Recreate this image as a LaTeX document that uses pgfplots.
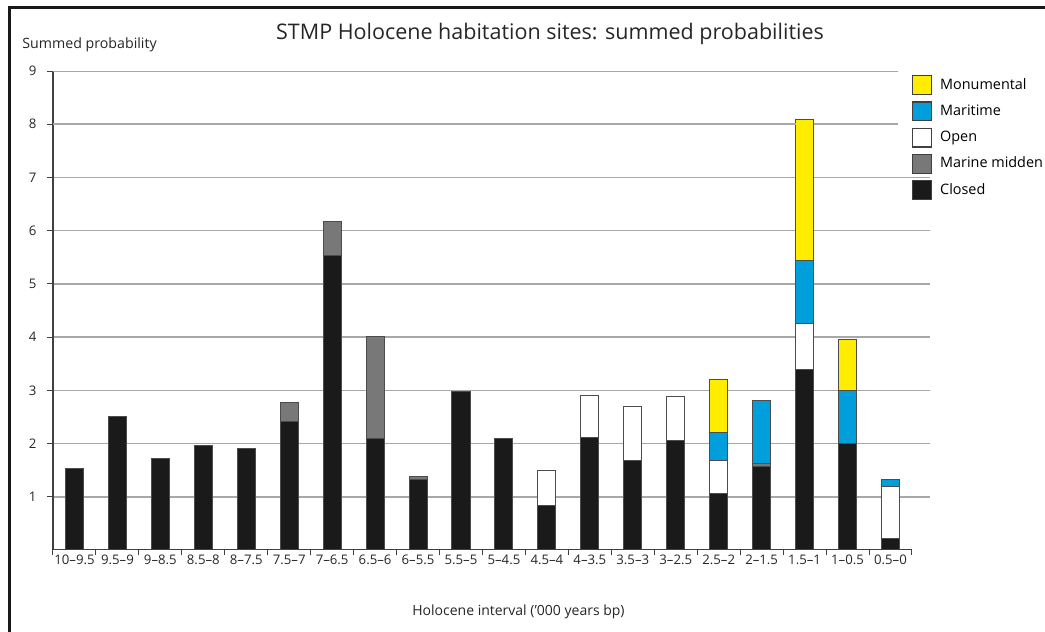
\documentclass[border=0pt]{standalone}
\usepackage{fontspec}
\setmainfont{Open Sans}
\usepackage{pgfplots}
\pgfplotsset{compat=1.18}
\usepackage{pgfplotstable}

\definecolor{closed}{HTML}{1A1A1A}
\definecolor{midden}{HTML}{787878}
\definecolor{maritime}{HTML}{009FDB}
\definecolor{monum}{HTML}{FFED00}
\definecolor{gridc}{HTML}{A8A8A8}

% summed probabilities per 500-year interval
\pgfplotstableread{
x    closed midden open maritime monumental
0.5  1.54   0      0    0        0
1.5  2.51   0      0    0        0
2.5  1.71   0      0    0        0
3.5  1.96   0      0    0        0
4.5  1.91   0      0    0        0
5.5  2.42   0.36   0    0        0
6.5  5.53   0.64   0    0        0
7.5  2.09   1.93   0    0        0
8.5  1.33   0.06   0    0        0
9.5  2.98   0      0    0        0
10.5 2.10   0      0    0        0
11.5 0.83   0      0.67 0        0
12.5 2.11   0      0.79 0        0
13.5 1.69   0      1.01 0        0
14.5 2.05   0      0.84 0        0
15.5 1.06   0      0.63 0.51     1.00
16.5 1.56   0.07   0    1.17     0
17.5 3.40   0      0.86 1.18     2.64
18.5 2.00   0      0    0.99     0.96
19.5 0.22   0      0.98 0.13     0
}\sites

\begin{document}
\begin{tikzpicture}
\useasboundingbox (0,0) rectangle (522.5pt,316pt);
\begin{axis}[
    at={(26.5pt,41pt)}, anchor=south west,
    scale only axis, width=438.5pt, height=239.5pt,
    xmin=0, xmax=20.42, ymin=0, ymax=9,
    ybar stacked, bar width=0.42,
    axis y line*=left, axis x line*=bottom,
    x axis line style={draw=none},
    y axis line style={black!75, line width=0.6pt},
    tick align=outside,
    xtick={0,...,20}, xticklabels={},
    major tick length=2.75pt,
    tick style={black!75, line width=0.5pt},
    extra x ticks={0.5,1.5,...,19.5},
    extra x tick labels={10–9.5,9.5–9,9–8.5,8.5–8,8–7.5,7.5–7,7–6.5,6.5–6,6–5.5,5.5–5,5–4.5,4.5–4,4–3.5,3.5–3,3–2.5,2.5–2,2–1.5,1.5–1,1–0.5,0.5–0},
    extra x tick style={major tick length=0pt},
    ytick={1,...,7},
    extra y ticks={8,9},
    extra y tick style={grid=none},
    ymajorgrids, grid style={gridc, line width=0.75pt},
    /pgf/number format/assume math mode=true,
    ticklabel style={font=\fontsize{6.6}{8}\selectfont, text=black!85},
    xticklabel style={inner sep=1pt, yshift=-1.5pt},
    yticklabel style={xshift=-2pt},
    reverse legend,
    legend cell align=left,
    legend image code/.code={\draw[#1,draw=black!75,line width=0.6pt] (0pt,-4.7pt) rectangle (9.4pt,4.7pt);},
    legend style={draw=none, fill=none, at={(0.979,0.992)}, anchor=north west,
        font=\fontsize{7.2}{8}\selectfont, row sep=3.1pt, column sep=2.6pt, inner sep=0pt,
        nodes={inner sep=1.5pt}},
]
% the top two grid lines stop short of the legend (8 is split round the 1.5-1 bar)
\draw[gridc, line width=0.75pt] (axis cs:0,9) -- (axis cs:19.67,9);
\draw[gridc, line width=0.75pt] (axis cs:0,8) -- (axis cs:17.29,8);
\draw[gridc, line width=0.75pt] (axis cs:17.71,8) -- (axis cs:19.67,8);
\draw[black!75, line width=0.6pt] (axis cs:0,0) -- (axis cs:20,0);

\addplot[fill=closed, draw=black!70, line width=0.5pt] table[x=x, y=closed] {\sites};
\addplot[fill=midden, draw=black!70, line width=0.5pt] table[x=x, y=midden] {\sites};
\addplot[fill=white, draw=black!70, line width=0.5pt] table[x=x, y=open] {\sites};
\addplot[fill=maritime, draw=black!70, line width=0.5pt] table[x=x, y=maritime] {\sites};
\addplot[fill=monum, draw=black!70, line width=0.5pt] table[x=x, y=monumental] {\sites};
\legend{Closed, Marine midden, Open, Maritime, Monumental}
\end{axis}

\node[anchor=base, font=\fontsize{10.75}{12}\selectfont, text=black!85] at (275pt,296pt) {STMP Holocene habitation sites: summed probabilities};
\node[anchor=base west, inner sep=0pt, font=\fontsize{7.1}{8}\selectfont, text=black!85] at (11pt,291.5pt) {Summed probability};
\node[anchor=base west, inner sep=0pt, font=\fontsize{7.0}{8}\selectfont, text=black!85] at (206pt,8pt) {Holocene interval (’000 years bp)};

% frame, cut off at right and bottom as in the source
\draw[black!90, line width=1.1pt] (4.75pt,-2pt) -- (4.75pt,312.25pt) -- (530pt,312.25pt);
\end{tikzpicture}
\end{document}
